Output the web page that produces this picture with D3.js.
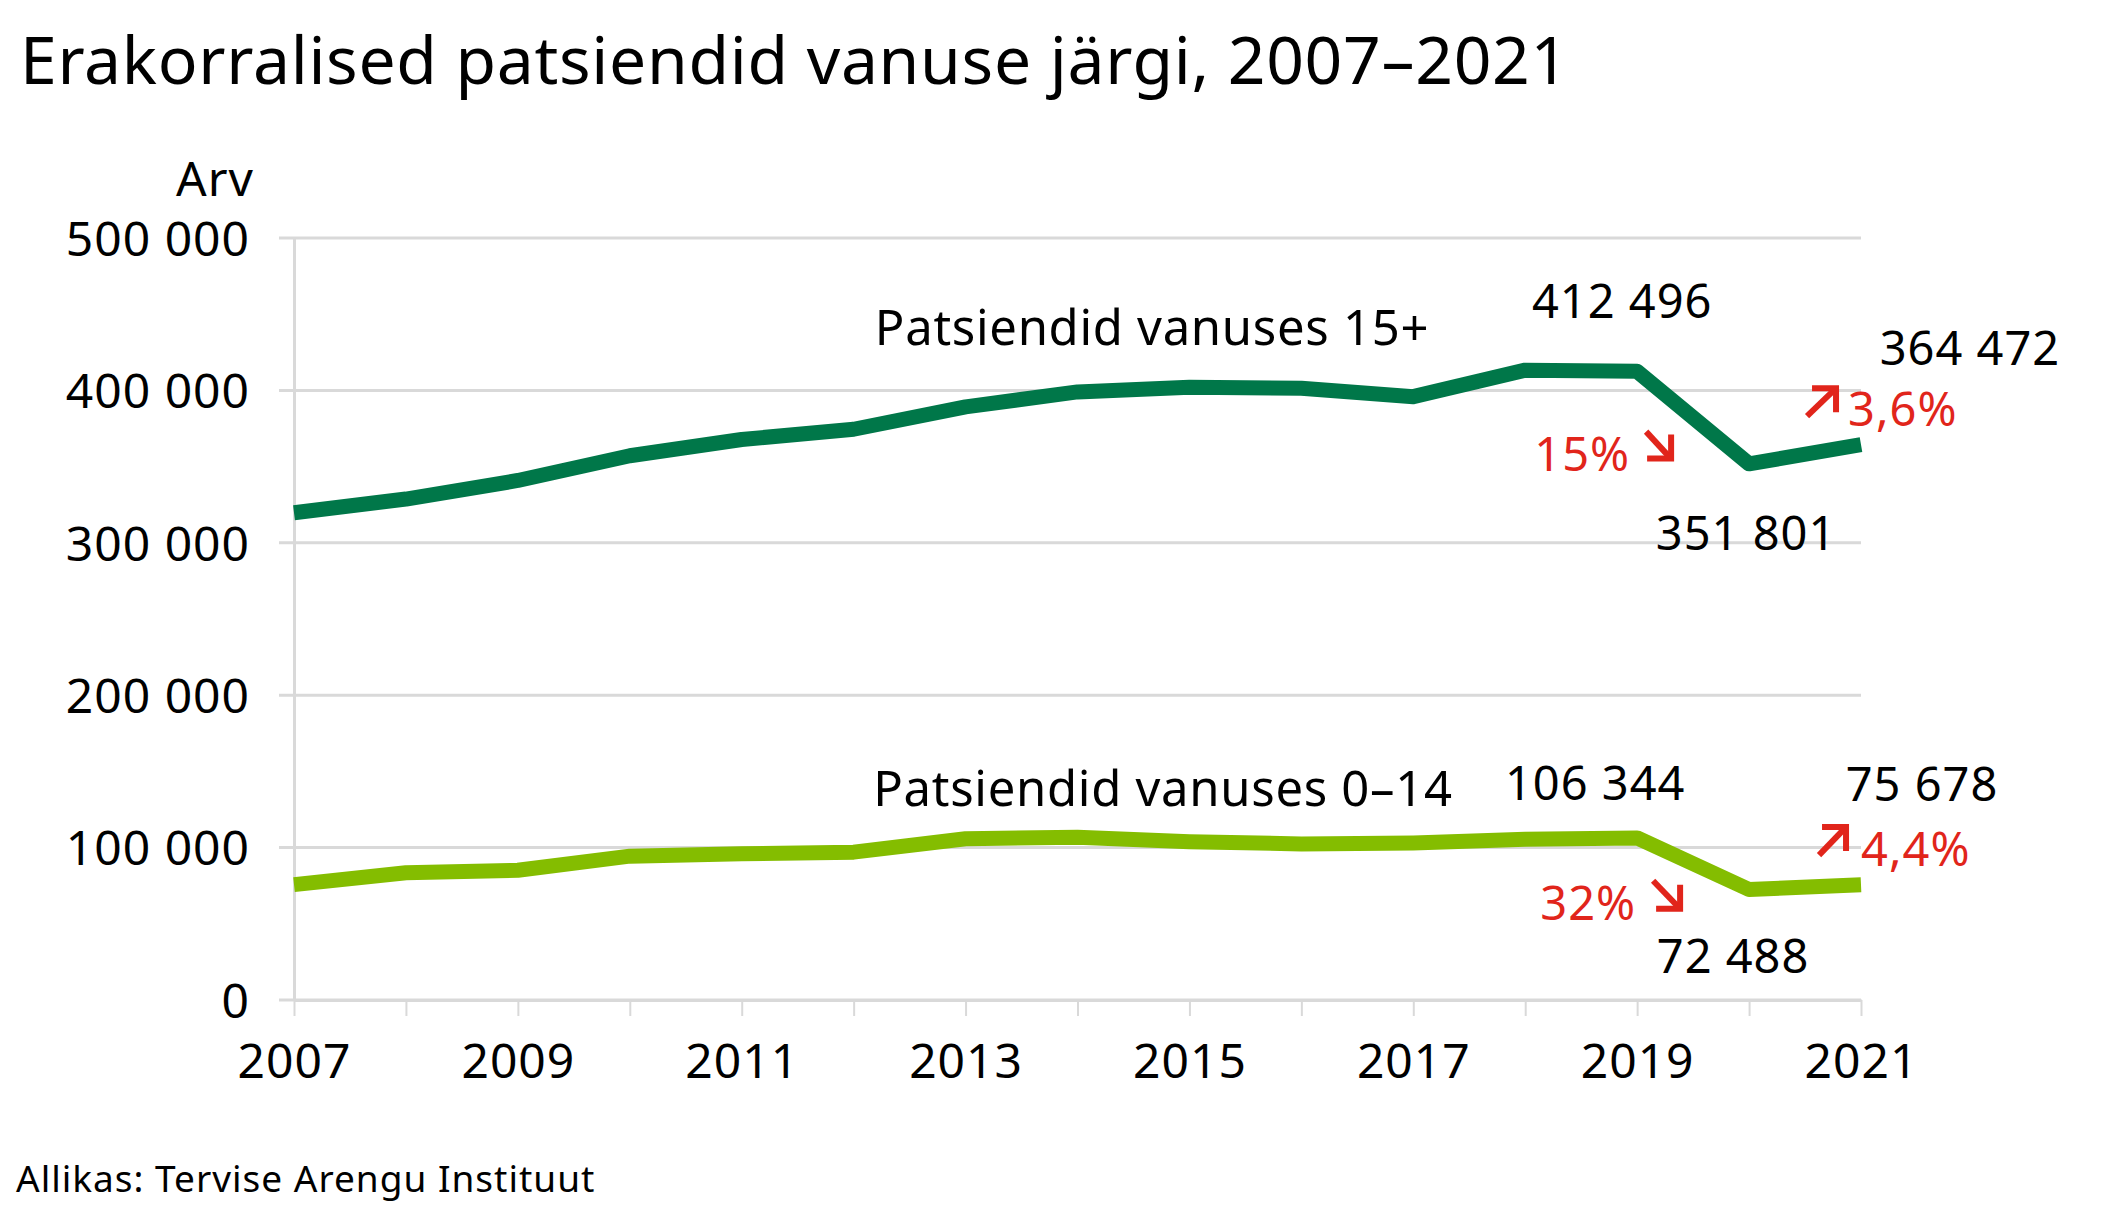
<!DOCTYPE html>
<html>
<head>
<meta charset="utf-8">
<script src="https://cdn.jsdelivr.net/npm/d3@7"></script>
<style>
body { margin: 0; background: #fff; }
text { font-family: "Noto Sans", sans-serif; fill: #000; }
</style>
</head>
<body>
<script>
// andmed
var years = [2007, 2008, 2009, 2010, 2011, 2012, 2013, 2014, 2015, 2016, 2017, 2018, 2019, 2020, 2021];
var adults = [319700, 328700, 340900, 357100, 367800, 374500, 389200, 399000, 402100, 401400, 395900, 413300, 412496, 351801, 364472];
var children = [75700, 83500, 85100, 94400, 95900, 97000, 105800, 106800, 103900, 102400, 103100, 105400, 106344, 72488, 75678];
var yTicks = [0, 100000, 200000, 300000, 400000, 500000];
var xTicks = [2007, 2009, 2011, 2013, 2015, 2017, 2019, 2021];

var w = 2102;
var h = 1213;
var padL = 294, padR = 1861, padT = 238, padB = 1000;
var gridColor = "#d9d9d9";
var red = "#e1251b";

var et = d3.formatLocale({decimal: ",", thousands: " ", grouping: [3], currency: ["", " €"]});
var fmt = et.format(",");

var svg = d3.select("body").append("svg")
    .attr("width", w)
    .attr("height", h);

var x = d3.scaleLinear().domain([2007, 2021]).range([padL, padR]);
var y = d3.scaleLinear().domain([0, 500000]).range([padB, padT]);

// pealkiri
svg.append("text")
    .attr("x", 20)
    .attr("y", 84)
    .attr("font-size", "66px")
    .attr("letter-spacing", "0.7px")
    .text("Erakorralised patsiendid vanuse järgi, 2007–2021");

// ruudustik
svg.append("g")
    .selectAll("line")
    .data(yTicks)
    .enter()
    .append("line")
    .attr("x1", padL - 15)
    .attr("x2", padR)
    .attr("y1", function(d) { return y(d); })
    .attr("y2", function(d) { return y(d); })
    .attr("stroke", gridColor)
    .attr("stroke-width", 3);

// y telg
var yAxis = svg.append("g")
    .attr("transform", "translate(" + padL + ",0)")
    .call(d3.axisLeft(y).tickValues(yTicks).tickSize(0).tickPadding(44).tickFormat(fmt));
yAxis.select(".domain").attr("stroke", gridColor).attr("stroke-width", 3);
yAxis.selectAll("text")
    .attr("font-size", "48px")
    .attr("letter-spacing", "1px")
    .attr("font-family", "Noto Sans")
    .attr("fill", "#000")
    .attr("dy", "0.36em");

svg.append("text")
    .attr("x", 254)
    .attr("y", 196)
    .attr("text-anchor", "end")
    .attr("font-size", "48px")
    .attr("letter-spacing", "1px")
    .text("Arv");

// x telg
var xAxis = svg.append("g")
    .attr("transform", "translate(0," + padB + ")")
    .call(d3.axisBottom(x).tickValues(years).tickSize(16).tickSizeOuter(0).tickPadding(28)
        .tickFormat(function(d) { return xTicks.indexOf(d) >= 0 ? d : ""; }));
xAxis.select(".domain").attr("stroke", gridColor).attr("stroke-width", 3);
xAxis.selectAll("line").attr("stroke", gridColor).attr("stroke-width", 2);
xAxis.selectAll("text")
    .attr("font-size", "48px")
    .attr("letter-spacing", "1px")
    .attr("font-family", "Noto Sans")
    .attr("fill", "#000");

// jooned
var line = d3.line()
    .x(function(d, i) { return x(years[i]); })
    .y(function(d) { return y(d); });

svg.append("path")
    .datum(adults)
    .attr("d", line)
    .attr("fill", "none")
    .attr("stroke", "#007749")
    .attr("stroke-width", 15)
    .attr("stroke-linejoin", "round");

svg.append("path")
    .datum(children)
    .attr("d", line)
    .attr("fill", "none")
    .attr("stroke", "#84bd00")
    .attr("stroke-width", 15)
    .attr("stroke-linejoin", "round");

// seeriate nimed
svg.append("text")
    .attr("x", 1152).attr("y", 345)
    .attr("text-anchor", "middle")
    .attr("font-size", "49px")
    .attr("letter-spacing", "0.7px")
    .text("Patsiendid vanuses 15+");
svg.append("text")
    .attr("x", 1163).attr("y", 806)
    .attr("text-anchor", "middle")
    .attr("font-size", "49px")
    .attr("letter-spacing", "0.7px")
    .text("Patsiendid vanuses 0–14");

// väärtuste sildid (nihked punktist)
var valueLabels = [
    {s: adults, i: 12, dx: -15, dy: -53},
    {s: adults, i: 13, dx: -3, dy: 86},
    {s: adults, i: 14, dx: 109, dy: -80},
    {s: children, i: 12, dx: -42, dy: -38},
    {s: children, i: 13, dx: -16, dy: 83},
    {s: children, i: 14, dx: 61, dy: -84}
];
svg.append("g")
    .selectAll("text")
    .data(valueLabels)
    .enter()
    .append("text")
    .attr("x", function(d) { return x(years[d.i]) + d.dx; })
    .attr("y", function(d) { return y(d.s[d.i]) + d.dy; })
    .attr("text-anchor", "middle")
    .attr("font-size", "47px")
    .attr("letter-spacing", "1px")
    .text(function(d) { return fmt(d.s[d.i]); });

// muutused protsentides
var changes = [
    {s: adults, i: 12, f: ".0%", anchor: "end", tx: -63, ty: 53, a: [[-47, 14], [-22, 41]], down: true},
    {s: adults, i: 13, f: ".1%", anchor: "start", tx: 43, ty: -28, a: [[2, -38], [31, -66]], down: false},
    {s: children, i: 12, f: ".0%", anchor: "end", tx: -57, ty: 56, a: [[-40, 17], [-13, 45]], down: true},
    {s: children, i: 13, f: ".1%", anchor: "start", tx: 56, ty: -21, a: [[14, -32], [41, -60]], down: false}
];

changes.forEach(function(c) {
    var v0 = c.s[c.i], v1 = c.s[c.i + 1];
    var mx = (x(years[c.i]) + x(years[c.i + 1])) / 2;
    var my = (y(v0) + y(v1)) / 2;
    var pct = Math.abs(v1 - v0) / v0;
    svg.append("text")
        .attr("x", mx + c.tx)
        .attr("y", my + c.ty)
        .attr("text-anchor", c.anchor)
        .attr("font-size", "47px")
        .attr("letter-spacing", "1px")
        .style("fill", red)
        .text(et.format(c.f)(pct));

    var x0 = mx + c.a[0][0], y0 = my + c.a[0][1];
    var x1 = mx + c.a[1][0], y1 = my + c.a[1][1];
    var hl = 24;
    // nool: vars ja nurgaga ots
    var head = c.down
        ? [[x1, y1 - hl], [x1, y1], [x1 - hl, y1]]
        : [[x1 - hl, y1], [x1, y1], [x1, y1 + hl]];
    svg.append("line")
        .attr("x1", x0).attr("y1", y0)
        .attr("x2", x1 - 2).attr("y2", y1 + (c.down ? -2 : 2))
        .attr("stroke", red)
        .attr("stroke-width", 6);
    svg.append("path")
        .attr("d", d3.line()(head))
        .attr("fill", "none")
        .attr("stroke", red)
        .attr("stroke-width", 6)
        .attr("stroke-linejoin", "miter");
});

// allikas
svg.append("text")
    .attr("x", 16)
    .attr("y", 1192)
    .attr("font-size", "37px")
    .attr("letter-spacing", "1px")
    .text("Allikas: Tervise Arengu Instituut");
</script>
</body>
</html>
